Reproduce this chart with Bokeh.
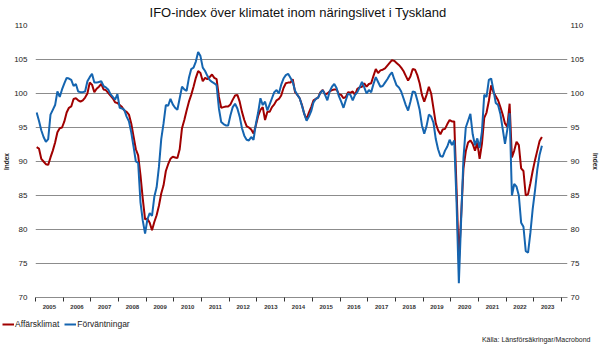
from bokeh.plotting import figure
from bokeh.models import Range1d, FixedTicker, Legend, LegendItem, LinearAxis, Label
from bokeh.layouts import column
from bokeh.embed import file_html
from bokeh.resources import INLINE

# ---------------- data (monthly, Jan 2005 - Apr 2023) ----------------
years = list(range(2005, 2024))
year_labels = [str(y) for y in years]
y_ticks = [70, 75, 80, 85, 90, 95, 100, 105, 110]

affarsklimat = [
    92.1, 91.9, 90.4, 90.0, 89.6, 89.5, 90.6, 91.6, 92.8, 94.3, 94.9, 95.0,      # 2005
    95.9, 97.2, 97.9, 98.1, 99.2, 99.3, 99.0, 98.8, 99.0, 99.4, 100.0, 101.6,    # 2006
    101.3, 100.2, 100.7, 101.0, 101.4, 100.6, 100.5, 100.1, 99.7, 99.3, 98.7, 98.6,  # 2007
    98.3, 98.0, 97.5, 97.3, 96.9, 95.6, 93.7, 91.8, 90.9, 88.0, 84.5, 81.5,      # 2008
    81.6, 81.0, 79.9, 81.1, 82.1, 83.5, 85.3, 86.5, 88.6, 89.6, 90.4, 90.7,      # 2009
    90.6, 90.5, 91.8, 94.9, 96.1, 97.5, 98.8, 99.8, 101.0, 102.3, 103.3, 103.0,  # 2010
    101.8, 102.3, 102.1, 102.4, 102.8, 102.3, 102.1, 99.5, 97.9, 98.0, 98.1, 98.1,  # 2011
    98.4, 99.1, 99.7, 99.8, 98.8, 97.3, 96.1, 95.2, 95.0, 94.7, 94.1, 95.3,      # 2012
    96.7, 97.6, 98.0, 96.1, 97.3, 97.3, 98.0, 98.4, 99.0, 99.2, 99.7, 100.8,     # 2013
    101.5, 101.6, 101.6, 102.1, 100.2, 99.8, 99.3, 98.3, 97.0, 96.2, 97.2, 98.0,  # 2014
    99.0, 99.2, 99.4, 100.2, 100.5, 99.9, 100.0, 100.3, 100.5, 100.6, 100.6, 99.9,  # 2015
    99.8, 99.3, 99.5, 100.2, 100.1, 100.3, 99.8, 100.7, 100.9, 101.0, 101.5, 101.0,  # 2016
    101.4, 101.5, 102.6, 103.6, 103.0, 103.4, 103.5, 103.7, 104.1, 104.5, 104.9, 104.8,  # 2017
    104.5, 104.2, 103.8, 103.3, 102.6, 101.9, 102.5, 103.6, 103.5, 102.7, 101.5, 99.8,  # 2018
    98.8, 99.8, 101.0, 100.0, 97.8, 95.6, 94.6, 94.0, 94.7, 94.8, 95.5, 96.1,    # 2019
    95.9, 95.9, 86.0, 75.3, 82.0, 89.0, 91.5, 92.8, 93.1, 92.6, 91.6, 92.8,      # 2020
    90.4, 92.6, 96.4, 97.2, 98.9, 101.2, 100.2, 99.6, 99.0, 98.0, 96.9, 95.6,    # 2021
    95.1, 98.5, 90.6, 91.6, 92.9, 92.4, 89.0, 88.6, 85.0, 85.2, 86.8, 88.6,      # 2022
    90.2, 91.6, 93.0, 93.6,                                                      # 2023
]

forvantningar = [
    97.2, 96.0, 94.6, 93.6, 92.9, 93.3, 96.9, 97.6, 98.3, 100.3, 99.5, 100.6,    # 2005
    101.5, 102.3, 102.2, 102.0, 101.1, 101.4, 100.3, 100.2, 100.2, 100.3, 101.8, 102.4,  # 2006
    102.9, 101.6, 101.6, 101.7, 101.8, 101.1, 100.9, 100.6, 99.9, 99.5, 99.1, 99.9,  # 2007
    97.9, 97.8, 97.6, 96.6, 95.9, 94.3, 92.2, 90.0, 89.8, 84.0, 81.3, 79.4,      # 2008
    81.5, 82.4, 82.0, 84.8, 86.2, 89.2, 93.3, 95.6, 98.3, 98.2, 99.2, 98.4,      # 2009
    97.9, 97.6, 99.3, 101.0, 100.6, 100.4, 102.3, 103.6, 103.8, 104.7, 106.1, 105.5,  # 2010
    103.8, 103.3, 102.6, 102.0, 101.7, 101.5, 101.2, 97.8, 95.8, 95.5, 95.3, 95.3,  # 2011
    96.8, 98.0, 98.5, 97.8, 96.6, 94.9, 93.8, 93.2, 93.1, 93.6, 93.2, 95.5,      # 2012
    97.2, 99.3, 98.3, 98.8, 97.5, 98.4, 99.3, 100.2, 100.5, 100.0, 101.3, 102.2,  # 2013
    102.7, 102.9, 102.3, 101.7, 100.4, 99.8, 99.3, 98.2, 97.0, 96.0, 96.6, 97.4,  # 2014
    98.7, 99.2, 99.4, 100.1, 100.5, 99.8, 99.0, 100.3, 101.0, 101.4, 100.8, 99.6,  # 2015
    98.8, 97.9, 99.0, 100.0, 99.8, 99.0, 99.8, 100.2, 100.9, 101.7, 100.9, 100.0,  # 2016
    100.5, 100.2, 101.4, 102.4, 101.7, 101.0, 101.1, 101.6, 102.1, 102.7, 103.1, 102.1,  # 2017
    101.2, 100.9, 100.3, 99.3, 98.3, 97.5, 98.8, 100.3, 100.2, 99.0, 97.6, 95.3,  # 2018
    94.1, 95.2, 96.9, 96.6, 95.7, 93.3, 91.8, 90.8, 90.7, 91.6, 92.2, 93.2,      # 2019
    92.4, 93.1, 84.0, 72.1, 81.5, 90.5, 95.0, 96.0, 97.0, 94.0, 92.4, 93.4,      # 2020
    92.0, 94.4, 99.8, 99.5, 102.0, 102.2, 100.5, 98.6, 98.3, 97.0, 94.8, 92.6,   # 2021
    94.7, 97.1, 85.0, 86.7, 86.3, 85.0, 81.0, 80.4, 76.8, 76.6, 79.5, 83.0,      # 2022
    85.7, 88.8, 91.0, 92.3,                                                      # 2023
]

series_names = ["Affärsklimat", "Förväntningar"]
source_text = "Källa: Länsförsäkringar/Macrobond"
title_text = "IFO-index över klimatet inom näringslivet i Tyskland"

start_year = years[0]
months_x = [start_year + (i + 0.5) / 12 for i in range(len(affarsklimat))]

RED = "#A00000"
BLUE = "#1565B0"
GRID = "#8c8c8c"
FONT = "Liberation Sans"


def strip(height):
    s = figure(width=601, height=height, output_backend="svg", toolbar_location=None,
               x_range=Range1d(0, 601), y_range=Range1d(0, height),
               x_axis_type=None, y_axis_type=None,
               min_border_left=0, min_border_right=0, min_border_top=0, min_border_bottom=0)
    s.outline_line_color = None
    s.xgrid.visible = False
    s.ygrid.visible = False
    s.background_fill_color = "white"
    s.border_fill_color = "white"
    return s


# ---------------- header strip: title ----------------
h = strip(20)
h.add_layout(Label(x=297.5, y=8, text=title_text, text_align="center",
                   text_baseline="middle", text_font=FONT, text_font_size="13px",
                   text_color="#111111"))

# ---------------- main chart ----------------
p = figure(width=601, height=295, output_backend="svg", toolbar_location=None,
           x_range=Range1d(2005, 2024.216), y_range=Range1d(70, 110),
           min_border_left=33, min_border_right=33, min_border_top=5, min_border_bottom=18)
p.outline_line_color = None
p.background_fill_color = "white"
p.border_fill_color = "white"

r1 = p.line(months_x, affarsklimat, line_color=RED, line_width=2)
r2 = p.line(months_x, forvantningar, line_color=BLUE, line_width=2)

yt = FixedTicker(ticks=y_ticks, minor_ticks=[])
left = p.yaxis[0]
left.ticker = yt
right = LinearAxis(ticker=yt)
p.add_layout(right, "right")
for ax, st, lst in ((left, 8, 1), (right, 3, 5)):
    ax.axis_line_color = None
    ax.major_tick_line_color = None
    ax.minor_tick_line_color = None
    ax.major_tick_out = 0
    ax.major_tick_in = 0
    ax.major_label_standoff = st
    ax.major_label_text_font = FONT
    ax.major_label_text_font_size = "8px"
    ax.major_label_text_color = "#222222"
    ax.axis_label = "Index"
    ax.axis_label_text_font = FONT
    ax.axis_label_text_font_size = "6.5px"
    ax.axis_label_text_font_style = "bold"
    ax.axis_label_text_color = "#222222"
    ax.axis_label_standoff = lst

p.ygrid.ticker = yt
p.ygrid.grid_line_color = GRID
p.ygrid.grid_line_width = 1
p.xgrid.grid_line_color = None

xa = p.xaxis[0]
xa.ticker = FixedTicker(ticks=[y + 0.5 for y in years], minor_ticks=years + [years[-1] + 1])
xa.major_label_overrides = {y + 0.5: lab for y, lab in zip(years, year_labels)}
xa.major_tick_out = 0
xa.major_tick_in = 0
xa.major_tick_line_color = None
xa.minor_tick_out = 4
xa.minor_tick_in = 0
xa.minor_tick_line_color = "#333333"
xa.axis_line_color = GRID
xa.major_label_standoff = 3
xa.major_label_text_font = FONT
xa.major_label_text_font_size = "6px"
xa.major_label_text_font_style = "bold"
xa.major_label_text_color = "#333333"

# ---------------- footer strip: legend + source ----------------
f = strip(36)
nan = float("nan")
k1 = f.line([nan], [nan], line_color=RED, line_width=2)
k2 = f.line([nan], [nan], line_color=BLUE, line_width=2)
legend = Legend(items=[LegendItem(label=series_names[0], renderers=[k1]),
                       LegendItem(label=series_names[1], renderers=[k2])],
                orientation="horizontal", location=(2, 22),
                glyph_width=12, glyph_height=10, label_height=10,
                label_standoff=1, spacing=5, padding=0, margin=0,
                border_line_color=None, background_fill_alpha=0,
                label_text_font=FONT, label_text_font_size="8.5px",
                label_text_color="#222222")
f.add_layout(legend)
f.add_layout(Label(x=590, y=12, text=source_text, text_align="right",
                   text_baseline="middle", text_font=FONT, text_font_size="7px",
                   text_color="#222222"))

for fig in (h, p, f):
    if "frame_align" in fig.properties():
        fig.frame_align = False

layout = column(h, p, f, spacing=0)
open("out.html", "w").write(file_html(layout, INLINE))
